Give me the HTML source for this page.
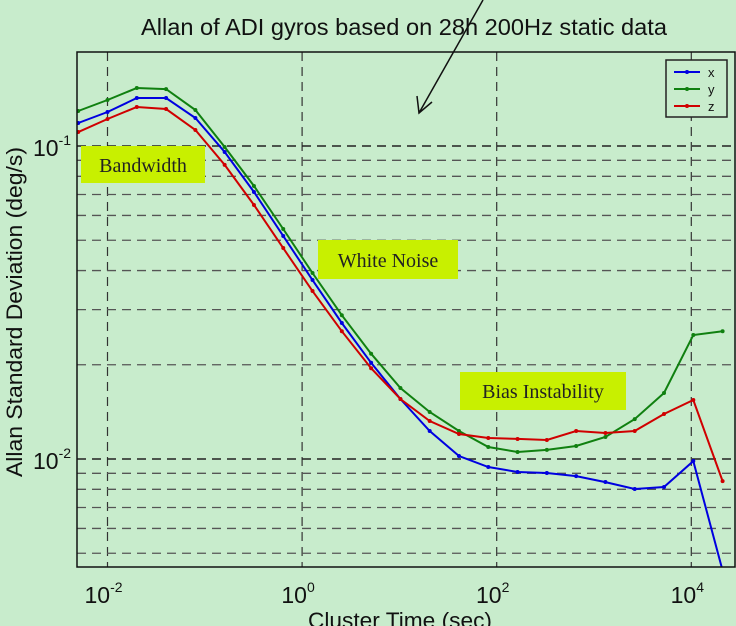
<!DOCTYPE html>
<html><head><meta charset="utf-8"><style>
html,body{margin:0;padding:0;background:#c8eccc;}
svg{display:block;font-family:"Liberation Sans",sans-serif;}
.lbl{font-family:"Liberation Serif",serif;font-size:20px;fill:#222;}
</style></head><body>
<svg id="chart" width="736" height="626" viewBox="0 0 736 626">
<rect x="0" y="0" width="736" height="626" fill="#c8eccc"/>
<text x="404" y="35" font-size="23" text-anchor="middle" fill="#111" textLength="526" lengthAdjust="spacingAndGlyphs">Allan of ADI gyros based on 28h 200Hz static data</text>
<g id="grid"></g>
<g id="series"></g>
<rect x="77" y="52" width="658" height="515" fill="none" stroke="#111" stroke-width="1.5"/>
<g id="ticks"></g>
<text transform="translate(22,312) rotate(-90)" font-size="22" text-anchor="middle" fill="#111" textLength="330" lengthAdjust="spacingAndGlyphs">Allan Standard Deviation (deg/s)</text>
<text x="400" y="628" font-size="22" text-anchor="middle" fill="#111" textLength="184" lengthAdjust="spacingAndGlyphs">Cluster Time (sec)</text>
<g><rect x="81" y="146" width="124" height="37" fill="#c8f000"/><text class="lbl" x="143" y="172" text-anchor="middle">Bandwidth</text></g>
<g><rect x="318" y="240" width="140" height="39" fill="#c8f000"/><text class="lbl" x="388" y="267" text-anchor="middle">White Noise</text></g>
<g><rect x="460" y="372" width="166" height="38" fill="#c8f000"/><text class="lbl" x="543" y="398" text-anchor="middle">Bias Instability</text></g>
<g><line x1="483" y1="0" x2="419" y2="113" stroke="#111" stroke-width="1.5"/><polyline points="417,96 419,113 432,102" fill="none" stroke="#111" stroke-width="1.5"/></g>
<g>
<rect x="666" y="60" width="61" height="57" fill="#c8eccc" stroke="#222" stroke-width="1.5"/>
<line x1="674" y1="72" x2="700" y2="72" stroke="#0000e0" stroke-width="2"/><circle cx="687" cy="72" r="2" fill="#0000e0"/><text x="708" y="77" font-size="13" fill="#111">x</text>
<line x1="674" y1="89" x2="700" y2="89" stroke="#108010" stroke-width="2"/><circle cx="687" cy="89" r="2" fill="#108010"/><text x="708" y="94" font-size="13" fill="#111">y</text>
<line x1="674" y1="106" x2="700" y2="106" stroke="#d00000" stroke-width="2"/><circle cx="687" cy="106" r="2" fill="#d00000"/><text x="708" y="111" font-size="13" fill="#111">z</text>
</g>
</svg>
<script>
const taus = [0.005,0.01,0.02,0.04,0.08,0.16,0.32,0.64,1.28,2.56,5.12,10.24,20.48,40.96,81.92,163.84,327.68,655.36,1310.72,2621.44,5242.88,10485.76,20971.52];
const seriesX = [0.1184,0.1284,0.1423,0.1423,0.1229,0.0957,0.0713,0.0516,0.0373,0.0272,0.0203,0.01555,0.01229,0.01022,0.00943,0.00909,0.00902,0.00882,0.00844,0.00802,0.00814,0.00985,0.0044];
const seriesY = [0.1294,0.1403,0.1532,0.152,0.1303,0.0993,0.0745,0.0543,0.0393,0.0288,0.0217,0.01686,0.01413,0.01229,0.01092,0.01053,0.01069,0.0110,0.01176,0.01341,0.01625,0.0249,0.0256];
const seriesZ = [0.1108,0.1220,0.1332,0.1313,0.1125,0.0870,0.0648,0.0472,0.0344,0.0256,0.0195,0.01555,0.01323,0.01202,0.01167,0.01159,0.0115,0.01229,0.01211,0.01229,0.01392,0.01543,0.0085];
const xTickExps = [-2,0,2,4];
const yTickExps = [-1,-2];
const yMinorVals = [0.09,0.08,0.07,0.06,0.05,0.04,0.03,0.02,0.009,0.008,0.007,0.006,0.005];

const NS='http://www.w3.org/2000/svg';
const L=77,R=735,T=52,B=567;
function xs(v){return 107.5+(Math.log10(v)+2)*97.3;}
function ys(v){return 146-(Math.log10(v)+1)*313;}
function mk(tag,attrs,parent){const e=document.createElementNS(NS,tag);for(const k in attrs)e.setAttribute(k,attrs[k]);parent.appendChild(e);return e;}
const grid=document.getElementById('grid');
xTickExps.forEach(e=>{
  const x=xs(Math.pow(10,e));
  const g=mk('line',{x1:x,x2:x,y1:T,y2:B,stroke:'#333','stroke-width':1.2,'stroke-dasharray':'9,6'},grid);
  
  
});
yTickExps.forEach(e=>{
  const y=ys(Math.pow(10,e));
  const g=mk('line',{x1:L,x2:R,y1:y,y2:y,stroke:'#222','stroke-width':1.5,'stroke-dasharray':'9,6'},grid);
  
  
});
yMinorVals.forEach(v=>{
  const y=ys(v);
  const g=mk('line',{x1:L,x2:R,y1:y,y2:y,stroke:'#555','stroke-width':1.3,'stroke-dasharray':'9,6'},grid);
  
  
});
const sg=document.getElementById('series');
const clip=mk('clipPath',{id:'pc'},sg);mk('rect',{x:L,y:T,width:R-L,height:B-T},clip);
[[seriesX,'#0000e0','series-x'],[seriesY,'#108010','series-y'],[seriesZ,'#d00000','series-z']].forEach(([d,c,n])=>{
  const g=mk('g',{'clip-path':'url(#pc)'},sg);
  
  
  const pts=d.map((v,i)=>xs(taus[i]).toFixed(1)+','+ys(v).toFixed(1)).join(' ');
  const pl=mk('polyline',{points:pts,fill:'none',stroke:c,'stroke-width':2},g);
  
  
  d.forEach((v,i)=>{
    const p=mk('circle',{cx:xs(taus[i]),cy:ys(v),r:2,fill:c},g);
    
    
  });
});
const tk=document.getElementById('ticks');
xTickExps.forEach(e=>{
  const x=xs(Math.pow(10,e));
  const t=mk('text',{x:x-4,y:603,'font-size':23,'text-anchor':'middle',fill:'#111'},tk);
  
  
  t.textContent='10';
  const s=mk('tspan',{dy:-11,'font-size':14},t);s.textContent=String(e);
});
yTickExps.forEach(e=>{
  const y=ys(Math.pow(10,e));
  const t=mk('text',{x:33,y:y+10,'font-size':23,fill:'#111'},tk);
  
  
  t.textContent='10';
  const s=mk('tspan',{dy:-11,'font-size':14},t);s.textContent=String(e);
});
</script>
</body></html>
